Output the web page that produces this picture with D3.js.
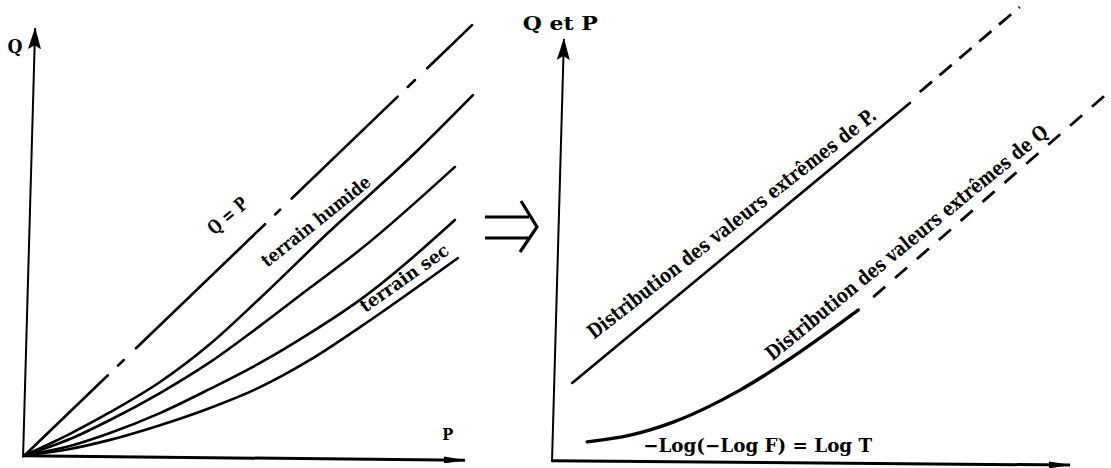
<!DOCTYPE html>
<html>
<head>
<meta charset="utf-8">
<script src="https://cdn.jsdelivr.net/npm/d3@7"></script>
<style>
  html, body { margin: 0; padding: 0; background: #fff; }
  svg { display: block; }
  .lbl { font-family: "DejaVu Serif", serif; font-weight: bold; fill: #000; }
</style>
</head>
<body>
<div id="chart"></div>
<script>
// left panel : Q against P (data units 0..100 on both axes)
const qEqualsP = [[0, 0], [101.6, 99.5]]
const curveHumide = [[0, 0], [10.23, 4.9], [19.32, 9.9], [30.68, 16.9], [42.05, 25.7], [53.41, 36.3], [68.64, 51.2], [89.32, 70.6], [101.8, 83.3]]
const curveMid1 = [[0, 0], [10.23, 3.7], [19.32, 8.1], [30.68, 14.35], [42.05, 21.5], [53.41, 29.9], [64.77, 38.7], [76.14, 47.5], [97.7, 66.7]]
const curveMid2 = [[0, 0], [10.23, 2.1], [19.32, 5.1], [30.68, 9.7], [42.05, 15.3], [53.41, 21.3], [64.77, 28.2], [76.14, 35.9], [97.7, 54.4]]
const curveSec = [[0, 0], [10.23, 1.4], [19.32, 3.5], [30.68, 6.9], [42.05, 10.9], [53.41, 15.7], [64.77, 22.0], [76.14, 29.6], [98.4, 45.6]]

// right panel : extreme value distributions against -Log(-Log F)
const pExtSolid = [[3.9, 18.3], [36.5, 51.5], [69.1, 84.8]]
const pExtDashed = [[71.0, 87.4], [90.3, 107.6]]
const qExtSolid = [[6.8, 4.3], [15.1, 5.9], [23.4, 9.0], [36.3, 16.6], [47.9, 25.7], [59.1, 35.6]]
const qExtDashed = [[62.0, 38.7], [107.3, 87.2]]

const leftLabels = ["Q", "P", "Q = P", "terrain humide", "terrain sec"]
const rightLabels = ["Q et P", "\u2212Log(\u2212Log F) = Log T", "Distribution des valeurs extrêmes de P.", "Distribution des valeurs extrêmes de Q"]

const width = 1111
const height = 468

const svg = d3.select('#chart')
    .append('svg')
    .attr('width', width)
    .attr('height', height)

svg.append('rect').attr('width', width).attr('height', height).attr('fill', '#fff')

const defs = svg.append('defs')
defs.append('marker')
    .attr('id', 'arrowV')
    .attr('viewBox', '0 0 22 13')
    .attr('refX', 21).attr('refY', 6.5)
    .attr('markerWidth', 22).attr('markerHeight', 13)
    .attr('markerUnits', 'userSpaceOnUse')
    .attr('orient', 'auto')
    .append('path').attr('d', 'M0,0 L22,6.5 L0,13 L4,6.5 Z').attr('fill', '#000')
defs.append('marker')
    .attr('id', 'arrowH')
    .attr('viewBox', '0 0 22 7')
    .attr('refX', 21).attr('refY', 3.5)
    .attr('markerWidth', 22).attr('markerHeight', 7)
    .attr('markerUnits', 'userSpaceOnUse')
    .attr('orient', 'auto')
    .append('path').attr('d', 'M0,0 L22,3.5 L0,7 Z').attr('fill', '#000')

// scales
const xL = d3.scaleLinear().domain([0, 100]).range([25, 465])
const yL = d3.scaleLinear().domain([0, 100]).range([455, 23])
const xR = d3.scaleLinear().domain([0, 100]).range([552, 1070])
const yR = d3.scaleLinear().domain([0, 100]).range([460, 39])

const lineL = d3.line().x(d => xL(d[0])).y(d => yL(d[1])).curve(d3.curveMonotoneX)
const lineR = d3.line().x(d => xR(d[0])).y(d => yR(d[1])).curve(d3.curveMonotoneX)
const straightL = d3.line().x(d => xL(d[0])).y(d => yL(d[1]))
const straightR = d3.line().x(d => xR(d[0])).y(d => yR(d[1]))

// ---- left panel axes (slightly leaning, as drawn by hand)
svg.append('path')
    .attr('d', straightL([[-0.45, -0.6], [2.3, 98.8]]))
    .attr('stroke', '#000').attr('stroke-width', 2).attr('fill', 'none')
    .attr('marker-end', 'url(#arrowV)')
svg.append('path')
    .attr('d', straightL([[-0.45, -0.2], [100, -1.2]]))
    .attr('stroke', '#000').attr('stroke-width', 3).attr('fill', 'none')
    .attr('marker-end', 'url(#arrowH)')

// Q = P : long dash / short dash
svg.append('path')
    .attr('d', straightL(qEqualsP))
    .attr('stroke', '#000').attr('stroke-width', 2.6).attr('fill', 'none')
    .attr('stroke-linecap', 'round')
    .attr('stroke-dasharray', '115,14,8,17,179,14,7,16,147,14,10,17,80')

svg.selectAll('.curveL')
    .data([curveHumide, curveMid1, curveMid2, curveSec])
    .join('path')
    .attr('class', 'curveL')
    .attr('d', lineL)
    .attr('stroke', '#000').attr('stroke-width', 2.6).attr('fill', 'none')
    .attr('stroke-linecap', 'round')

// ---- right panel axes
svg.append('path')
    .attr('d', straightR([[0, -0.5], [2.3, 100]]))
    .attr('stroke', '#000').attr('stroke-width', 2).attr('fill', 'none')
    .attr('marker-end', 'url(#arrowV)')
svg.append('path')
    .attr('d', straightR([[0, -0.2], [100, -1.2]]))
    .attr('stroke', '#000').attr('stroke-width', 3).attr('fill', 'none')
    .attr('marker-end', 'url(#arrowH)')

svg.append('path')
    .attr('d', lineR(pExtSolid))
    .attr('stroke', '#000').attr('stroke-width', 2.6).attr('fill', 'none')
    .attr('stroke-linecap', 'round')
svg.append('path')
    .attr('d', straightR(pExtDashed))
    .attr('stroke', '#000').attr('stroke-width', 2.8).attr('fill', 'none')
    .attr('stroke-dasharray', '16,10')
svg.append('path')
    .attr('d', lineR(qExtSolid))
    .attr('stroke', '#000').attr('stroke-width', 3.4).attr('fill', 'none')
    .attr('stroke-linecap', 'round')
svg.append('path')
    .attr('d', straightR(qExtDashed))
    .attr('stroke', '#000').attr('stroke-width', 2.8).attr('fill', 'none')
    .attr('stroke-dasharray', '16,13')

// ---- double arrow between panels
svg.append('path')
    .attr('d', 'M485,217 L529,217 M485,238 L529,238 M521,201 L537,227 L520,252')
    .attr('stroke', '#000').attr('stroke-width', 3.2).attr('fill', 'none')

// ---- labels
function label(text, x, y, size, len, angle) {
    svg.append('text')
        .attr('class', 'lbl')
        .attr('transform', `translate(${x},${y}) rotate(${angle})`)
        .attr('text-anchor', 'middle')
        .attr('font-size', size)
        .attr('textLength', len)
        .attr('lengthAdjust', 'spacingAndGlyphs')
        .text(text)
}

label(leftLabels[0], xL(-2.3), yL(93.1), 19, 15, 0)
label(leftLabels[1], xL(96.1), yL(3.5), 17, 11, 0)
label(leftLabels[2], xL(47.0), yL(54.2), 19, 46, -40)
label(leftLabels[3], xL(67.0), yL(53.0), 18, 134, -38.5)
label(leftLabels[4], xL(87.0), yL(39.8), 18, 104, -35)

label(rightLabels[0], xR(1.6), yR(102.1), 19, 75, 0)
label(rightLabels[1], xR(39.7), yR(1.9), 19, 229, 0)
label(rightLabels[2], xR(35.5), yR(54.9), 20, 360, -38)
label(rightLabels[3], xR(69.3), yR(50.4), 20, 358, -39.3)
</script>
</body>
</html>
